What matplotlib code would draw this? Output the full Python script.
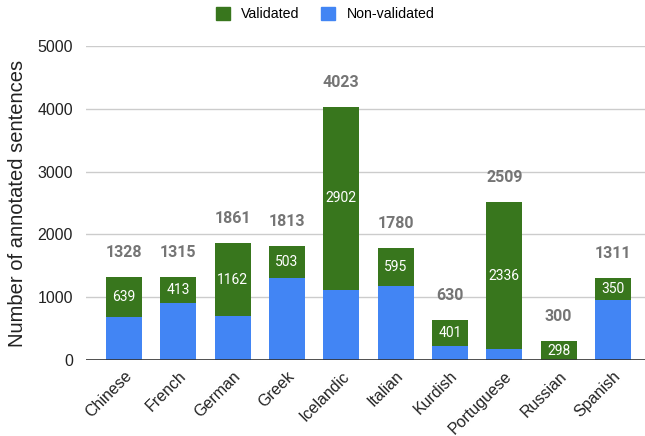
import numpy as np
import matplotlib.pyplot as plt
from matplotlib.patches import Patch

languages = ['Chinese', 'French', 'German', 'Greek', 'Icelandic',
             'Italian', 'Kurdish', 'Portuguese', 'Russian', 'Spanish']
totals = [1328, 1315, 1861, 1813, 4023, 1780, 630, 2509, 300, 1311]
validated = [639, 413, 1162, 503, 2902, 595, 401, 2336, 298, 350]
non_validated = [t - v for t, v in zip(totals, validated)]

green = '#38761d'
blue = '#4285f4'

fig = plt.figure(figsize=(6.45, 4.36), dpi=100)
ax = fig.add_axes([86 / 645, 76 / 436, 559 / 645, 314 / 436])

x = np.arange(len(languages))
ax.bar(x, non_validated, width=0.66, color=blue, zorder=2)
ax.bar(x, validated, width=0.66, bottom=non_validated, color=green, zorder=2)

# segment labels (white) and totals (grey, above the stack)
for xi, nv, v, t in zip(x, non_validated, validated, totals):
    ax.text(xi, nv + v / 2, str(v), ha='center', va='center', color='white',
            fontsize=10, family='Roboto', zorder=3)
    ax.text(xi, t + 390, str(t), ha='center', va='center', color='#757575',
            fontsize=11.5, family='Roboto', fontweight='bold', zorder=3)

ax.set_xlim(-0.7, 9.59)
ax.set_ylim(0, 5000)
ax.set_yticks([0, 1000, 2000, 3000, 4000, 5000])
ax.yaxis.grid(True, color='#cccccc', linewidth=1, zorder=0)
ax.axhline(0, color='#333333', linewidth=1.2, zorder=4)

for s in ax.spines.values():
    s.set_visible(False)
ax.tick_params(axis='both', length=0, labelsize=11.5, colors='#222222',
               labelfontfamily='Liberation Sans')
ax.tick_params(axis='y', pad=9.5)
ax.tick_params(axis='x', pad=6)
ax.set_xticks(x)
ax.set_xticklabels(languages, rotation=45, ha='right', rotation_mode='anchor')
for lbl in ax.get_xticklabels():
    lbl.set_x(lbl.get_position()[0] + 0.15)

ax.set_ylabel('Number of annotated sentences', fontsize=14.5,
              family='Liberation Sans', color='#222222', labelpad=7)

handles = [Patch(color=green, label='Validated'),
           Patch(color=blue, label='Non-validated')]
fig.legend(handles=handles, loc='center', bbox_to_anchor=(325 / 645, 1 - 14 / 436),
           ncol=2, frameon=False, handlelength=1.0, handleheight=1.0,
           columnspacing=1.5, handletextpad=0.8,
           prop={'family': 'Liberation Sans', 'size': 10.2})

fig.savefig('out.png', dpi=100)
